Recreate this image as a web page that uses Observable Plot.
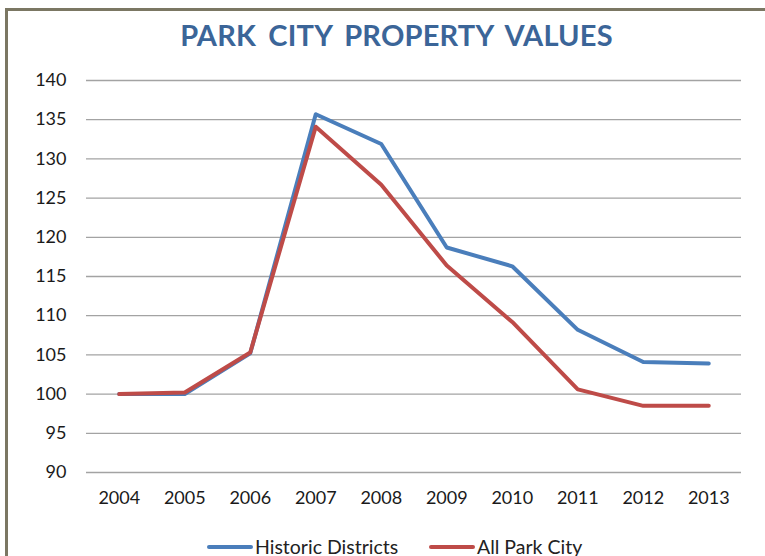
<!DOCTYPE html>
<html>
<head>
<meta charset="utf-8">
<script src="https://cdn.jsdelivr.net/npm/d3@7"></script>
<script src="https://cdn.jsdelivr.net/npm/@observablehq/plot@0.6"></script>
<style>
  html, body { margin: 0; padding: 0; background: #fff; }
  #root { position: relative; width: 765px; height: 556px; overflow: hidden; background: #fff; font-family: Lato, "Open Sans", sans-serif; }
  #frame { position: absolute; left: 5px; top: 8px; width: 800px; height: 600px; border-left: 3px solid #7b7763; border-top: 3px solid #7b7763; box-sizing: border-box; }
  #title { position: absolute; left: 14px; width: 765px; top: 20px; text-align: center; font-size: 29px; line-height: 29px; font-weight: 700; color: #3b6598; letter-spacing: 0.2px; word-spacing: 5px; white-space: nowrap; }
  #chart { position: absolute; left: 0; top: 0; }
  #legend { position: absolute; left: 0; top: 536px; height: 22px; width: 765px; font-size: 19.5px; color: #222; }
  .item { position: absolute; top: 0; height: 22px; display: flex; align-items: center; white-space: nowrap; line-height: 22px; }
  .sw { display: inline-block; width: 46px; height: 4px; border-radius: 2px; margin-right: 2px; }
</style>
</head>
<body>
<div id="root">
  <div id="frame"></div>
  <div id="title">PARK CITY PROPERTY VALUES</div>
  <div id="chart"></div>
  <div id="legend"></div>
</div>
<script>
const years = [2004, 2005, 2006, 2007, 2008, 2009, 2010, 2011, 2012, 2013];
const historicDistricts = [100, 100.0, 105.2, 135.7, 131.9, 118.7, 116.3, 108.2, 104.1, 103.9];
const allParkCity = [100, 100.2, 105.3, 134.1, 126.7, 116.4, 109.2, 100.6, 98.5, 98.5];
const seriesNames = ["Historic Districts", "All Park City"];
const seriesColors = ["#4a7ebb", "#be4b48"];
const yTicks = [90, 95, 100, 105, 110, 115, 120, 125, 130, 135, 140];

const data = [];
years.forEach((yr, i) => data.push({year: yr, value: historicDistricts[i], series: seriesNames[0]}));
years.forEach((yr, i) => data.push({year: yr, value: allParkCity[i], series: seriesNames[1]}));

const chart = Plot.plot({
  width: 765,
  height: 512,
  marginTop: 80,
  marginBottom: 40,
  marginLeft: 86,
  marginRight: 24,
  style: {fontFamily: "Lato, 'Open Sans', sans-serif", fontSize: "18px", color: "#1a1a1a", background: "transparent", overflow: "visible"},
  x: {type: "linear", domain: [2003.5, 2013.5]},
  y: {domain: [90, 140]},
  color: {domain: seriesNames, range: seriesColors},
  marks: [
    Plot.ruleY(yTicks, {stroke: "#a3a3a3", strokeWidth: 1.3}),
    Plot.axisY({ticks: yTicks, tickSize: 0, tickPadding: 20, fontSize: 18, label: null, tickFormat: d => String(d)}),
    Plot.axisX({ticks: years, tickSize: 0, tickPadding: 19, fontSize: 18, label: null, tickFormat: d => String(d)}),
    Plot.line(data, {x: "year", y: "value", stroke: "series", z: "series", strokeWidth: 4, strokeLinejoin: "round", strokeLinecap: "round"})
  ]
});
document.getElementById("chart").appendChild(chart);

const legend = document.getElementById("legend");
const lefts = [207, 429];
seriesNames.forEach((name, i) => {
  const it = document.createElement("div");
  it.className = "item";
  it.style.left = lefts[i] + "px";
  const sw = document.createElement("span");
  sw.className = "sw";
  sw.style.background = seriesColors[i];
  const tx = document.createElement("span");
  tx.textContent = name;
  it.appendChild(sw);
  it.appendChild(tx);
  legend.appendChild(it);
});
</script>
</body>
</html>
